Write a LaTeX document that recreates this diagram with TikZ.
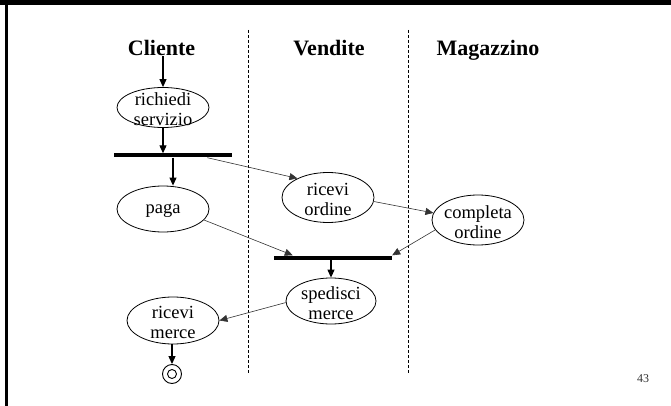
\documentclass[tikz,border=0pt]{standalone}
\usepackage{fontspec}
\setmainfont{Liberation Serif}
\usetikzlibrary{arrows.meta,shapes.geometric,calc}

\tikzset{
  act/.style={ellipse, draw, line width=0.8pt, inner sep=0pt,
              minimum width=92pt, minimum height=46pt},
  txt/.style={font=\fontsize{18.5}{20}\selectfont, align=center,
              inner sep=0pt, yshift=-2pt},
  title/.style={font=\bfseries\fontsize{22}{24}\selectfont, anchor=base, inner sep=0pt},
  fork/.style={fill=black, inner sep=0pt, minimum width=118pt, minimum height=4pt},
  lane/.style={dash pattern=on 3pt off 2pt, line width=0.9pt},
  flow/.style={-{Triangle[length=8pt,width=7pt]}, line width=1.1pt},
  link/.style={-{Triangle[length=8pt,width=7pt]}, line width=0.6pt, black!80},
}

\begin{document}
\begin{tikzpicture}[x=1pt,y=-1pt]
  \useasboundingbox (0,0) rectangle (671,406);

  % slide frame
  \fill (0,0) rectangle (671,5);
  \fill (5,0) rectangle (7.5,406);

  % swimlane separators
  \draw[lane] (248,30) -- (248,374);
  \draw[lane] (408,30) -- (408,374);

  % lane titles
  \node[title] (cli) at (161.5,56) {Cliente};
  \node[title] (ven) at (329,56) {Vendite};
  \node[title] (mag) at (488,56) {Magazzino};

  % activities
  \node[act, minimum height=40pt, label={[txt,name=rs-t]center:richiedi\\servizio}] (rs) at (163,107.5) {};
  \node[fork] (bar1) at (173,155.5) {};
  \node[act, label={[txt,name=paga-t]center:paga}] (paga) at (163,209) {};
  \node[act, minimum height=50pt, label={[txt,name=ro-t]center:ricevi\\ordine}] (ro) at (328,197.5) {};
  \node[act, minimum height=50pt, label={[txt,name=co-t]center:completa\\ordine}] (co) at (478,220) {};
  \node[fork] (bar2) at (333,257.5) {};
  \node[act, minimum width=90pt, label={[txt,name=sm-t]center:spedisci\\merce}] (sm) at (331,301) {};
  \node[act, minimum height=47pt, label={[txt,name=rm-t]center:ricevi\\merce}] (rm) at (173,320.5) {};

  % final state
  \node[circle, draw, line width=0.9pt, minimum size=19pt, inner sep=0pt] (fin) at (172,374) {};
  \node[circle, draw, line width=0.9pt, minimum size=9pt, inner sep=0pt] (fin-in) at (fin) {};

  % control flow
  \draw[flow] (cli.base -| rs.north) -- (rs.north);
  \draw[flow] (rs.south) -- (rs.south |- bar1.north);
  \draw[flow] (bar1.south) -- (bar1.south |- paga.north);
  \draw[link] ($(bar1.south west)!0.79!(bar1.south east)$) -- (ro.148);
  \draw[link] (ro.-5) -- (co.171);
  \draw[link] (paga.-15) -- ($(bar2.north west)!0.16!(bar2.north east)$);
  \draw[link] (co.193) -- (bar2.north east);
  \draw[flow] (sm.north |- bar2.south) -- (sm.north);
  \draw[link] (sm.182) -- (rm.east);
  \draw[flow] (rm.south -| fin) -- (fin.north);

  % page number
  \node[font=\fontsize{12}{14}\selectfont, anchor=base, inner sep=0pt, black!80] (pg) at (643,382) {43};
\end{tikzpicture}
\end{document}
